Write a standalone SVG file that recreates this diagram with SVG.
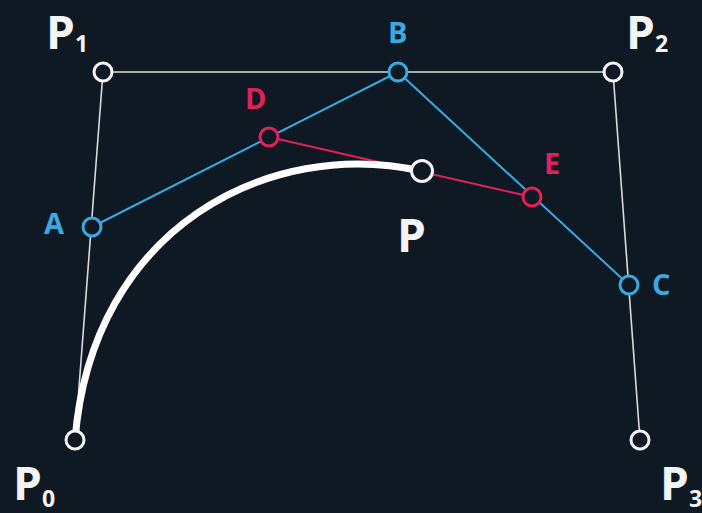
<svg xmlns="http://www.w3.org/2000/svg" width="702" height="513" viewBox="0 0 702 513">
<style>
.big{font-family:"Open Sans","Liberation Sans",sans-serif;font-weight:700;font-size:46px;fill:#f4f4f4}
.sub{font-family:"Open Sans","Liberation Sans",sans-serif;font-weight:700;font-size:23px;fill:#f4f4f4}
.lbl{font-family:"Open Sans","Liberation Sans",sans-serif;font-weight:700;font-size:29px}
.blue{fill:#3aa9e0}
.red{fill:#e3205a}
.pt{fill:#0f1923;stroke-width:3}
.w{stroke:#f4f4f4}
.b{stroke:#3aa9e0}
.r{stroke:#e3205a}
</style>
<rect width="702" height="513" fill="#0f1923"/>
<g id="connectors" fill="none">
<path d="M75,440 L103,72 L613,72 L640,440" stroke="#d8dadc" stroke-width="1.6"/>
<path d="M92,227 L398,72 L629,285" stroke="#3aa9e0" stroke-width="2"/>
<path d="M269,137 L532,197" stroke="#e3205a" stroke-width="2"/>
<path d="M75,440 C92,227 269.5,137 421.6,171.1" stroke="#ffffff" stroke-width="7"/>
</g>
<g id="P0"><circle class="pt w" cx="75" cy="440" r="9"/><text class="big" x="13" y="500">P</text><text class="sub" x="42" y="507">0</text></g>
<g id="P1"><circle class="pt w" cx="103" cy="72" r="9"/><text class="big" x="46" y="49">P</text><text class="sub" x="75" y="52">1</text></g>
<g id="P2"><circle class="pt w" cx="613" cy="72" r="9"/><text class="big" x="626" y="49">P</text><text class="sub" x="655" y="52">2</text></g>
<g id="P3"><circle class="pt w" cx="640" cy="440" r="9"/><text class="big" x="660" y="500">P</text><text class="sub" x="689" y="507">3</text></g>
<g id="A"><circle class="pt b" cx="92" cy="227" r="9"/><text class="lbl blue" x="44" y="234">A</text></g>
<g id="B"><circle class="pt b" cx="398" cy="72" r="9"/><text class="lbl blue" x="388" y="43">B</text></g>
<g id="C"><circle class="pt b" cx="629" cy="285" r="9"/><text class="lbl blue" x="652" y="295">C</text></g>
<g id="D"><circle class="pt r" cx="269" cy="137" r="9"/><text class="lbl red" x="245" y="109">D</text></g>
<g id="E"><circle class="pt r" cx="532" cy="197" r="9"/><text class="lbl red" x="544" y="174">E</text></g>
<g id="P"><circle class="pt w" cx="422" cy="171" r="10.5"/><text class="big" x="397" y="252">P</text></g>
</svg>
